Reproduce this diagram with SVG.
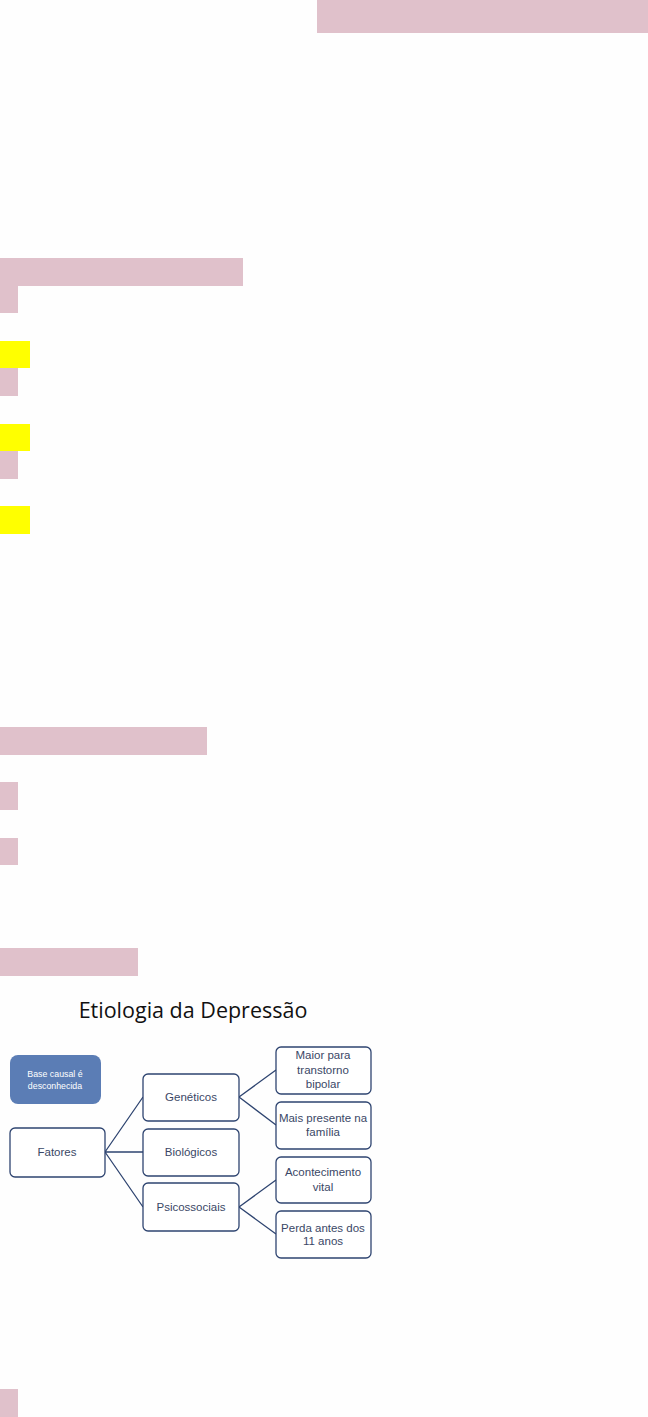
<svg xmlns="http://www.w3.org/2000/svg" width="648" height="1417" viewBox="0 0 648 1417">
<style>
.pk{fill:#E0C1CB}
.yl{fill:#FFFF00}
.box{fill:#FFFFFF;stroke:#2E4470;stroke-width:1.3}
.t{font-family:"Liberation Sans",Arial,sans-serif;font-size:11.5px;fill:#3A4766;text-anchor:middle}
.w{font-family:"Liberation Sans",Arial,sans-serif;font-size:8.8px;fill:#FFFFFF;text-anchor:middle}
.ln{stroke:#2E4470;stroke-width:1.3;fill:none}
</style>
<rect width="648" height="1417" fill="#FEFEFE"/>
<g id="blocks">
<rect class="pk" x="317" y="0" width="331" height="33"/>
<rect class="pk" x="0" y="258" width="243" height="28"/>
<rect class="pk" x="0" y="286" width="18" height="27"/>
<rect class="yl" x="0" y="341" width="30" height="27"/>
<rect class="pk" x="0" y="368" width="18" height="28"/>
<rect class="yl" x="0" y="424" width="30" height="27"/>
<rect class="pk" x="0" y="451" width="18" height="28"/>
<rect class="yl" x="0" y="506" width="30" height="28"/>
<rect class="pk" x="0" y="727" width="207" height="28"/>
<rect class="pk" x="0" y="782" width="18" height="28"/>
<rect class="pk" x="0" y="838" width="18" height="27"/>
<rect class="pk" x="0" y="948" width="138" height="28"/>
<rect class="pk" x="0" y="1389" width="18" height="28"/>
</g>
<text x="193" y="1018" font-family="'Open Sans','Liberation Sans',sans-serif" font-size="21.5" fill="#111111" text-anchor="middle">Etiologia da Depressão</text>
<g id="connectors">
<path class="ln" d="M105,1152 L143,1097 M105,1152 L143,1152 M105,1152 L143,1207"/>
<path class="ln" d="M239,1097 L276,1070 M239,1097 L276,1125"/>
<path class="ln" d="M239,1207 L276,1180 M239,1207 L276,1234"/>
</g>
<g id="base">
<rect x="10" y="1055" width="91" height="49" rx="8" fill="#5B7DB5"/>
<text class="w" x="55" y="1077">Base causal é</text>
<text class="w" x="55" y="1089">desconhecida</text>
</g>
<g id="fatores">
<rect class="box" x="10" y="1128" width="95" height="49" rx="5"/>
<text class="t" x="57" y="1156">Fatores</text>
</g>
<g id="geneticos">
<rect class="box" x="143" y="1074" width="96" height="47" rx="5"/>
<text class="t" x="191" y="1101">Genéticos</text>
</g>
<g id="biologicos">
<rect class="box" x="143" y="1129" width="96" height="47" rx="5"/>
<text class="t" x="191" y="1156">Biológicos</text>
</g>
<g id="psicossociais">
<rect class="box" x="143" y="1183" width="96" height="48" rx="5"/>
<text class="t" x="191" y="1211">Psicossociais</text>
</g>
<g id="maior">
<rect class="box" x="276" y="1047" width="95" height="47" rx="5"/>
<text class="t" x="323" y="1059">Maior para</text>
<text class="t" x="323" y="1074">transtorno</text>
<text class="t" x="323" y="1088">bipolar</text>
</g>
<g id="mais">
<rect class="box" x="276" y="1102" width="95" height="47" rx="5"/>
<text class="t" x="323" y="1122">Mais presente na</text>
<text class="t" x="323" y="1136">família</text>
</g>
<g id="acontecimento">
<rect class="box" x="276" y="1157" width="95" height="46" rx="5"/>
<text class="t" x="323" y="1176">Acontecimento</text>
<text class="t" x="323" y="1191">vital</text>
</g>
<g id="perda">
<rect class="box" x="276" y="1211" width="95" height="47" rx="5"/>
<text class="t" x="323" y="1232">Perda antes dos</text>
<text class="t" x="323" y="1245">11 anos</text>
</g>
</svg>
